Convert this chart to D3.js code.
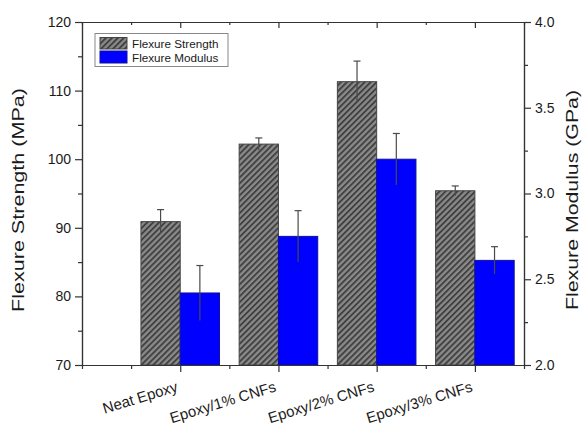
<!DOCTYPE html>
<meta charset="utf-8">
<style>
  body { margin: 0; background: #fff; }
  text { font-family: Arial, "Liberation Sans", sans-serif; fill: #1a1a1a; }
  .axis path, .axis line { stroke: #333; stroke-width: 1.2px; }
  .axis text { font-size: 14px; fill: #1a1a1a; }
</style>
<body>
<svg id="chart" width="582" height="426"></svg>
<script src="https://cdn.jsdelivr.net/npm/d3@7"></script>
<script>
// values
var categories = ["Neat Epoxy", "Epoxy/1% CNFs", "Epoxy/2% CNFs", "Epoxy/3% CNFs"];
var strength = [90.9, 102.2, 111.3, 95.4];      // MPa
var strengthErr = [1.75, 0.9, 3.0, 0.7];
var modulus = [2.42, 2.75, 3.20, 2.61];         // GPa
var modulusErr = [0.16, 0.15, 0.15, 0.08];
var leftTicks = [70, 80, 90, 100, 110, 120];
var rightTicks = [2.0, 2.5, 3.0, 3.5, 4.0];

var svg = d3.select("#chart");
var pLeft = 82, pRight = 524, pTop = 22, pBottom = 365;

var x = d3.scaleLinear().domain([-1, 3.5]).range([pLeft, pRight]);
var yL = d3.scaleLinear().domain([70, 120]).range([pBottom, pTop]);
var yR = d3.scaleLinear().domain([2, 4]).range([pBottom, pTop]);
var bw = x(0.4) - x(0);

// hatch for the strength bars
var defs = svg.append("defs");
var pat = defs.append("pattern")
    .attr("id", "hatch")
    .attr("patternUnits", "userSpaceOnUse")
    .attr("width", 4.2).attr("height", 4.2)
    .attr("patternTransform", "rotate(45)");
pat.append("rect").attr("width", 4.2).attr("height", 4.2).attr("fill", "#8a8a8a");
pat.append("line").attr("x1", 1).attr("x2", 1).attr("y1", 0).attr("y2", 4.2)
    .attr("stroke", "#3c3c3c").attr("stroke-width", 1.8);

// bars
var g = svg.append("g");
g.selectAll("rect.str").data(strength).enter().append("rect")
    .attr("class", "str")
    .attr("x", function(d, i) { return x(i) - bw; })
    .attr("y", function(d) { return yL(d); })
    .attr("width", bw)
    .attr("height", function(d) { return pBottom - yL(d); })
    .attr("fill", "url(#hatch)")
    .attr("stroke", "#444").attr("stroke-width", 1);

g.selectAll("rect.mod").data(modulus).enter().append("rect")
    .attr("class", "mod")
    .attr("x", function(d, i) { return x(i); })
    .attr("y", function(d) { return yR(d); })
    .attr("width", bw)
    .attr("height", function(d) { return pBottom - yR(d); })
    .attr("fill", "#0000ff")
    .attr("stroke", "#10109a").attr("stroke-width", 1);

// error bars, cap on top only
function errBars(vals, errs, y, dx) {
  var eb = g.append("g").attr("stroke", "#4a4a4a").attr("stroke-width", 1.2);
  vals.forEach(function(v, i) {
    var cx = x(i) + dx;
    eb.append("line").attr("x1", cx).attr("x2", cx)
      .attr("y1", y(v - errs[i])).attr("y2", y(v + errs[i]));
    eb.append("line").attr("x1", cx - 3.5).attr("x2", cx + 3.5)
      .attr("y1", y(v + errs[i])).attr("y2", y(v + errs[i]));
  });
}
errBars(strength, strengthErr, yL, -bw / 2);
errBars(modulus, modulusErr, yR, bw / 2);

// axes
svg.append("g").attr("class", "axis")
    .attr("transform", "translate(" + pLeft + ",0)")
    .call(d3.axisLeft(yL).tickValues(d3.range(75, 120, 10)).tickSize(4).tickFormat(""));
svg.append("g").attr("class", "axis")
    .attr("transform", "translate(" + pLeft + ",0)")
    .call(d3.axisLeft(yL).tickValues(leftTicks).tickSize(7).tickSizeOuter(0).tickPadding(4));

svg.append("g").attr("class", "axis")
    .attr("transform", "translate(" + pRight + ",0)")
    .call(d3.axisRight(yR).tickValues([2.25, 2.75, 3.25, 3.75]).tickSize(4).tickFormat(""));
svg.append("g").attr("class", "axis")
    .attr("transform", "translate(" + pRight + ",0)")
    .call(d3.axisRight(yR).tickValues(rightTicks).tickSize(7).tickSizeOuter(0)
      .tickPadding(4).tickFormat(d3.format(".1f")));

svg.append("g").attr("class", "axis")
    .attr("transform", "translate(0," + pTop + ")")
    .call(d3.axisTop(x).tickValues([-0.5, 0.5, 1.5, 2.5]).tickSize(-3).tickFormat(""));
svg.append("g").attr("class", "axis")
    .attr("transform", "translate(0," + pTop + ")")
    .call(d3.axisTop(x).tickValues([0, 1, 2, 3]).tickSize(-6).tickSizeOuter(0).tickFormat(""));

svg.append("g").attr("class", "axis")
    .attr("transform", "translate(0," + pBottom + ")")
    .call(d3.axisBottom(x).tickValues([-0.5, 0.5, 1.5, 2.5]).tickSize(4).tickFormat(""));
var xAx = svg.append("g").attr("class", "axis")
    .attr("transform", "translate(0," + pBottom + ")")
    .call(d3.axisBottom(x).tickValues([0, 1, 2, 3]).tickSize(7).tickSizeOuter(0)
      .tickFormat(function(i) { return categories[i]; }));
xAx.selectAll(".tick text")
    .attr("y", 0).attr("dy", 0)
    .attr("text-anchor", "end")
    .attr("transform", "translate(-2,26) rotate(-17)")
    .style("font-size", "15px");

// axis titles
svg.append("text")
    .attr("transform", "translate(24,200) rotate(-90)")
    .attr("text-anchor", "middle")
    .attr("textLength", 224).attr("lengthAdjust", "spacingAndGlyphs")
    .style("font-size", "17px")
    .text("Flexure Strength (MPa)");
svg.append("text")
    .attr("transform", "translate(578,200) rotate(-90)")
    .attr("text-anchor", "middle")
    .attr("textLength", 220).attr("lengthAdjust", "spacingAndGlyphs")
    .style("font-size", "17px")
    .text("Flexure Modulus (GPa)");

// legend
var lg = svg.append("g");
lg.append("rect").attr("x", 95).attr("y", 33.5).attr("width", 133).attr("height", 33)
    .attr("fill", "#fff").attr("stroke", "#888").attr("stroke-width", 1);
lg.append("rect").attr("x", 100).attr("y", 37.5).attr("width", 27).attr("height", 11.5)
    .attr("fill", "url(#hatch)").attr("stroke", "#444");
lg.append("rect").attr("x", 100).attr("y", 51).attr("width", 27).attr("height", 12)
    .attr("fill", "#0000ff").attr("stroke", "#10109a");
lg.append("text").attr("x", 132).attr("y", 47.5).style("font-size", "11.7px").text("Flexure Strength");
lg.append("text").attr("x", 132).attr("y", 61.5).style("font-size", "11.7px").text("Flexure Modulus");
</script>
</body>
